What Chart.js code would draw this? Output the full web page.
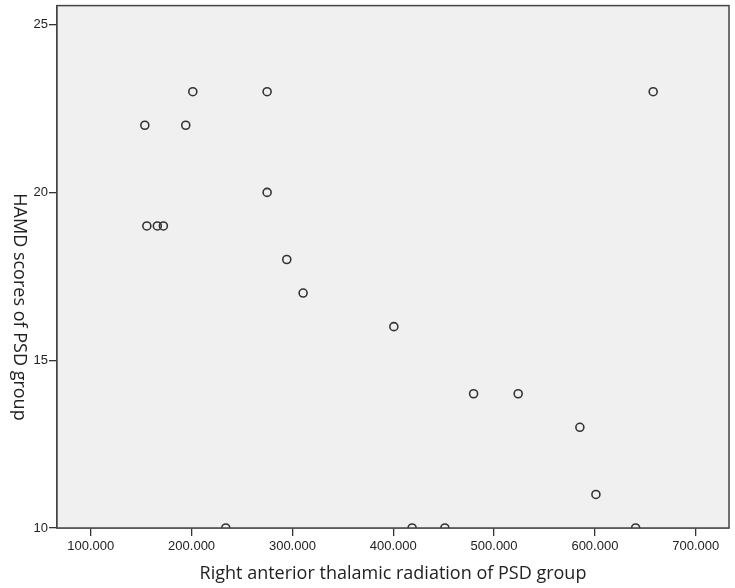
<!DOCTYPE html>
<html>
<head>
<meta charset="utf-8">
<title>HAMD scores vs right anterior thalamic radiation</title>
<script src="https://cdn.jsdelivr.net/npm/chart.js@4/dist/chart.umd.min.js"></script>
<style>
  html, body { margin: 0; padding: 0; background: #fff; }
  #wrap { width: 735px; height: 588px; }
</style>
</head>
<body>
<div id="wrap"><canvas id="scatter" width="735" height="588"></canvas></div>
<script>
'use strict';

// values
const radiation = [153.6, 155.6, 166.0, 172.0, 194.2, 201.2, 274.9, 274.9, 294.4, 310.6,
  400.6, 479.7, 523.9, 585.1, 601.0, 657.8, 233.9, 418.7, 451.2, 640.4];
const hamd = [22, 19, 19, 19, 22, 23, 23, 20, 18, 17,
  16, 14, 14, 13, 11, 23, 10, 10, 10, 10];

const xTicks = [100, 200, 300, 400, 500, 600, 700];
const yTicks = [10, 15, 20, 25];

const xTitle = 'Right anterior thalamic radiation of PSD group';
const yTitle = 'HAMD scores of PSD group';

const plotFrame = {
  id: 'plotFrame',
  beforeDatasetsDraw(chart) {
    const a = chart.chartArea;
    const ctx = chart.ctx;
    ctx.save();
    ctx.fillStyle = '#f0f0f0';
    ctx.fillRect(a.left, a.top, a.right - a.left, a.bottom - a.top);
    ctx.restore();
  },
  afterDatasetsDraw(chart) {
    const a = chart.chartArea;
    const ctx = chart.ctx;
    ctx.save();
    ctx.strokeStyle = '#444';
    ctx.lineWidth = 1.5;
    ctx.strokeRect(a.left, a.top, a.right - a.left, a.bottom - a.top);
    ctx.restore();
  },
  afterDraw(chart) {
    // y title reads top to bottom, so it is drawn here
    const ctx = chart.ctx;
    ctx.save();
    ctx.translate(19, 307);
    ctx.rotate(Math.PI / 2);
    ctx.font = '18px "Open Sans"';
    ctx.fillStyle = '#222';
    ctx.textAlign = 'center';
    ctx.textBaseline = 'middle';
    ctx.fillText(yTitle, 0, 0);
    ctx.restore();
  }
};

const points = radiation.map(function (x, i) { return { x: x, y: hamd[i] }; });

new Chart(document.getElementById('scatter'), {
  type: 'scatter',
  data: {
    datasets: [{
      data: points,
      pointRadius: 4,
      pointHoverRadius: 4,
      pointBorderWidth: 1.6,
      borderColor: '#333',
      backgroundColor: 'rgba(0,0,0,0)',
      clip: 0
    }]
  },
  options: {
    responsive: false,
    animation: false,
    layout: { padding: { left: 0, right: 6, top: 5, bottom: 0 } },
    plugins: { legend: { display: false }, tooltip: { enabled: false } },
    scales: {
      x: {
        type: 'linear',
        min: 66.5,
        max: 733,
        afterBuildTicks: function (scale) {
          scale.ticks = xTicks.map(function (v) { return { value: v }; });
        },
        afterFit: function (scale) {
          scale.height = 60;
          scale.paddingLeft = 0;
          scale.paddingRight = 0;
        },
        grid: { drawOnChartArea: false, drawTicks: true, tickLength: 8, color: '#333', lineWidth: 1.3 },
        border: { display: true, color: '#444', width: 1.5 },
        ticks: {
          padding: 3,
          color: '#222',
          font: { family: 'Liberation Sans', size: 13 },
          maxRotation: 0,
          callback: function (v) { return Number(v).toFixed(3); }
        },
        title: {
          display: true,
          text: xTitle,
          color: '#222',
          font: { family: 'Open Sans', size: 18 },
          padding: { top: 0, bottom: 3 }
        }
      },
      y: {
        type: 'linear',
        min: 10,
        max: 25.565,
        afterBuildTicks: function (scale) {
          scale.ticks = yTicks.map(function (v) { return { value: v }; });
        },
        afterFit: function (scale) {
          scale.width = 57;
          scale.paddingTop = 0;
          scale.paddingBottom = 0;
        },
        grid: { drawOnChartArea: false, drawTicks: true, tickLength: 8, color: '#333', lineWidth: 1.3 },
        border: { display: true, color: '#444', width: 1.5 },
        ticks: {
          padding: 1,
          color: '#222',
          font: { family: 'Liberation Sans', size: 13 }
        }
      }
    }
  },
  plugins: [plotFrame]
});
</script>
</body>
</html>
